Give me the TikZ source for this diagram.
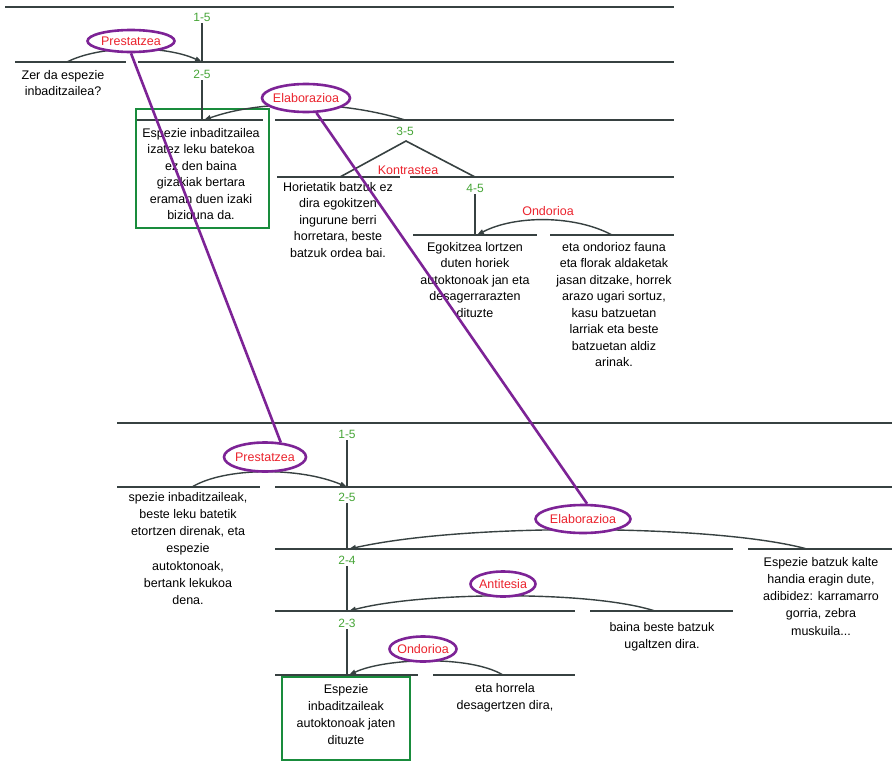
\documentclass[tikz,border=0pt]{standalone}
\usepackage{fontspec}
\setmainfont{Liberation Sans}
\usetikzlibrary{shapes.geometric,arrows.meta}

\definecolor{barcol}{RGB}{55,65,65}
\definecolor{relred}{RGB}{235,35,45}
\definecolor{numgreen}{RGB}{70,165,55}
\definecolor{boxgreen}{RGB}{25,140,60}
\definecolor{linkpurple}{RGB}{125,35,150}

\begin{document}
\begin{tikzpicture}[x=1pt,y=-1pt,
		bar/.style={draw=barcol, line width=2.2pt},
		stem/.style={draw=barcol, line width=1.6pt},
		rel/.style={draw=barcol, line width=1.4pt, -{Triangle[length=7pt,width=5pt]}},
		link/.style={draw=linkpurple, line width=2.6pt},
		focus/.style={draw=boxgreen, line width=2.8pt},
		relname/.style={ellipse, draw=linkpurple, line width=2.6pt, fill=white, text=relred,
			inner xsep=-6pt, inner ysep=1pt, font=\fontsize{12.5}{15}\selectfont},
		relplain/.style={text=relred, inner sep=0pt, font=\fontsize{12.5}{15}\selectfont},
		num/.style={text=numgreen, inner sep=2pt, font=\fontsize{12}{14}\selectfont},
		txt/.style={align=center, anchor=north, inner sep=0pt, font=\fontsize{12.5}{16.5}\selectfont},
		txtlow/.style={txt, font=\fontsize{12.5}{17.2}\selectfont}]
	\useasboundingbox (0,0) rectangle (892,763);

	% upper tree: bars
	\draw[bar] (5,7) -- (674,7);
	\draw[bar] (15,62) -- (126,62);
	\draw[bar] (138,62) -- (674,62);
	\draw[bar] (137,120) -- (263,120);
	\draw[bar] (275,120) -- (674,120);
	\draw[bar] (277,177) -- (400,177);
	\draw[bar] (410,177) -- (674,177);
	\draw[bar] (413,235) -- (537,235);
	\draw[bar] (550,235) -- (674,235);

	% upper tree: focus box
	\draw[focus] (136,109) rectangle (269,228);

	% upper tree: numbers
	\node[num] (n15a) at (202,17) {1-5};
	\node[num] (n25a) at (202,74) {2-5};
	\node[num] (n35) at (405,131) {3-5};
	\node[num] (n45) at (475,188) {4-5};

	% upper tree: attachment points
	\coordinate (t15a) at (202,62);
	\coordinate (t25a) at (202,120);
	\coordinate (t45) at (475,235);
	\coordinate (s15a) at (67,62);
	\coordinate (s25a) at (405,120);
	\coordinate (s45) at (612,235);
	\coordinate (k0) at (406,141);
	\coordinate (k1) at (340,177);
	\coordinate (k2) at (475,177);

	\draw[stem] (n15a.south) -- (t15a);
	\draw[stem] (n25a.south) -- (t25a);
	\draw[stem] (n45.south) -- (t45);
	\draw[stem] (k1) -- (k0) -- (k2);

	% upper tree: relations
	\draw[rel] (s15a) .. controls (100,45) and (165,45) .. (t15a);
	\draw[rel] (s25a) .. controls (340,100) and (260,100) .. ([xshift=2pt]t25a);
	\draw[rel] (s45) .. controls (575,215) and (515,215) .. ([xshift=2pt]t45);
	\node[relname, minimum width=87pt, minimum height=22pt] (prest1) at (131,41) {Prestatzea};
	\node[relname, minimum width=88pt, minimum height=28pt] (elab1) at (306,98) {Elaborazioa};
	\node[relplain] (kontr) at (408,170) {Kontrastea};
	\node[relplain] (ond1) at (548,211) {Ondorioa};

	% upper tree: texts
	\node[txt] (zer) at (63,70) {Zer da espezie\\inbaditzailea?};
	\node[txt] (espezie1) at (201,128) {Espezie inbaditzailea\\izatez leku batekoa\\ez den baina\\gizakiak bertara\\eraman duen izaki\\biziduna da.};
	\node[txt] (horietatik) at (338,182) {Horietatik batzuk ez\\dira egokitzen\\ingurune berri\\horretara, beste\\batzuk ordea bai.};
	\node[txt] (egokitzea) at (475,242) {Egokitzea lortzen\\duten horiek\\autoktonoak jan eta\\desagerrarazten\\dituzte};
	\node[txt] (ondorioz) at (614,242) {eta ondorioz fauna\\eta florak aldaketak\\jasan ditzake, horrek\\arazo ugari sortuz,\\kasu batzuetan\\larriak eta beste\\batzuetan aldiz\\arinak.};

	% lower tree: bars
	\draw[bar] (117,423) -- (892,423);
	\draw[bar] (117,487) -- (260,487);
	\draw[bar] (275,487) -- (892,487);
	\draw[bar] (275,549) -- (733,549);
	\draw[bar] (748,549) -- (892,549);
	\draw[bar] (275,611) -- (575,611);
	\draw[bar] (590,611) -- (733,611);
	\draw[bar] (275,675) -- (418,675);
	\draw[bar] (433,675) -- (575,675);

	% lower tree: focus box
	\draw[focus] (282,677) rectangle (410,760);

	% lower tree: numbers
	\node[num] (n15b) at (347,434) {1-5};
	\node[num] (n25b) at (347,497) {2-5};
	\node[num] (n24) at (347,560) {2-4};
	\node[num] (n23) at (347,623) {2-3};

	% lower tree: attachment points
	\coordinate (t15b) at (347,487);
	\coordinate (t25b) at (347,549);
	\coordinate (t24) at (347,611);
	\coordinate (t23) at (347,675);
	\coordinate (s15b) at (192,487);
	\coordinate (s25b) at (807,549);
	\coordinate (s24) at (655,611);
	\coordinate (s23) at (503,675);

	\draw[stem] (n15b.south) -- (t15b);
	\draw[stem] (n25b.south) -- (t25b);
	\draw[stem] (n24.south) -- (t24);
	\draw[stem] (n23.south) -- (t23);

	% lower tree: relations
	\draw[rel] (s15b) .. controls (225,467) and (300,467) .. (t15b);
	\draw[rel] (s25b) .. controls (720,525) and (470,522) .. ([xshift=2pt]t25b);
	\draw[rel] (s24) .. controls (590,590) and (420,592) .. ([xshift=2pt]t24);
	\draw[rel] (s23) .. controls (470,655) and (385,658) .. ([xshift=2pt]t23);
	\node[relname, minimum width=82pt, minimum height=29pt] (prest2) at (265,457) {Prestatzea};
	\node[relname, minimum width=95pt, minimum height=28pt] (elab2) at (583,519) {Elaborazioa};
	\node[relname, minimum width=65pt, minimum height=25pt] (anti) at (503,584) {Antitesia};
	\node[relname, minimum width=67pt, minimum height=25pt] (ond2) at (423,649) {Ondorioa};

	% lower tree: texts
	\node[txtlow] (spezie2) at (188,492) {spezie inbaditzaileak,\\beste leku batetik\\etortzen direnak, eta\\espezie\\autoktonoak,\\bertank lekukoa\\dena.};
	\node[txtlow] (espezie3) at (821,557) {Espezie batzuk kalte\\handia eragin dute,\\adibidez: karramarro\\gorria, zebra\\muskuila...};
	\node[txtlow] (baina) at (662,622) {baina beste batzuk\\ugaltzen dira.};
	\node[txtlow] (espezie4) at (346,684) {Espezie\\inbaditzaileak\\autoktonoak jaten\\dituzte};
	\node[txtlow] (horrela) at (505,683) {eta horrela\\desagertzen dira,};

	% links between the trees
	\draw[link] (prest1.south) -- (prest2.43);
	\draw[link] (elab1.-55) -- (elab2.75);
\end{tikzpicture}
\end{document}
